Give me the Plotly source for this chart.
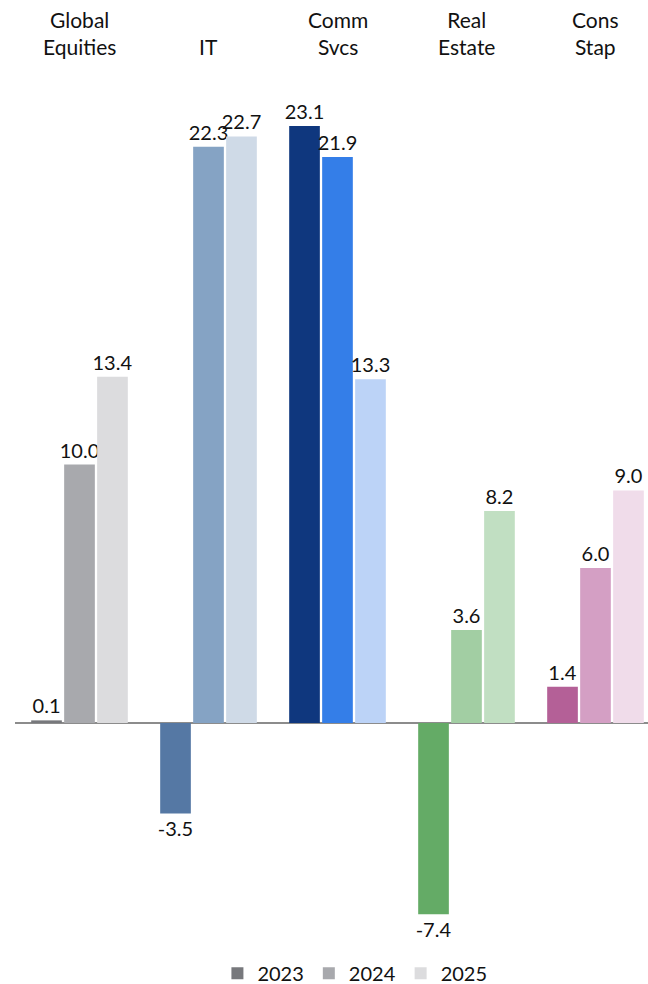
import plotly.graph_objects as go

# Sector returns by year (%)
categories = ["Global Equities", "IT", "Comm Svcs", "Real Estate", "Cons Stap"]
category_labels = ["Global<br>Equities", "IT", "Comm<br>Svcs", "Real<br>Estate", "Cons<br>Stap"]
years = ["2023", "2024", "2025"]
returns_2023 = [0.1, -3.5, 23.1, -7.4, 1.4]
returns_2024 = [10.0, 22.3, 21.9, 3.6, 6.0]
returns_2025 = [13.4, 22.7, 13.3, 8.2, 9.0]

# Each sector has its own shade family: dark / mid / light per year
colors_2023 = ["#77787c", "#5578a4", "#0f377e", "#64ab66", "#b46097"]
colors_2024 = ["#a8a9ad", "#85a3c4", "#347ee8", "#a2cea3", "#d49fc4"]
colors_2025 = ["#dcdcde", "#cfdae7", "#bcd3f7", "#c1dfc2", "#f0dcea"]

FONT = "Lato, 'Open Sans', sans-serif"
TEXT_COLOR = "#111111"

fig = go.Figure()
for name, vals, cols in zip(years,
                            [returns_2023, returns_2024, returns_2025],
                            [colors_2023, colors_2024, colors_2025]):
    fig.add_trace(go.Bar(
        name=name,
        x=categories,
        y=vals,
        marker=dict(color=cols, line=dict(width=0)),
        text=[f"{v:.1f}" for v in vals],
        textposition="outside",
        textfont=dict(family=FONT, size=20, color=TEXT_COLOR),
        constraintext="none",
        cliponaxis=False,
    ))

# Sector names above the plot area
for cat, lab in zip(categories, category_labels):
    fig.add_annotation(
        x=cat, y=1, xref="x", yref="paper",
        text=lab, showarrow=False,
        yanchor="bottom", yshift=1,
        font=dict(family=FONT, size=21, color=TEXT_COLOR),
    )

fig.update_layout(
    width=648, height=984,
    margin=dict(l=15, r=0, t=62, b=44),
    paper_bgcolor="white",
    plot_bgcolor="white",
    barmode="group",
    bargap=0.233,
    bargroupgap=0.07,
    showlegend=True,
    legend=dict(
        orientation="h",
        x=0.537, xanchor="center",
        yref="container", y=0.011, yanchor="middle",
        font=dict(family=FONT, size=20, color=TEXT_COLOR),
        itemwidth=30,
    ),
    xaxis=dict(
        range=[-0.5, 4.407],
        showticklabels=False, showgrid=False, showline=False, ticks="",
    ),
    yaxis=dict(
        range=[-8.40, 25.58],
        showticklabels=False, showgrid=False, ticks="",
        zeroline=True, zerolinecolor="#8c8c8c", zerolinewidth=2,
    ),
)

fig.write_html("out.html")
